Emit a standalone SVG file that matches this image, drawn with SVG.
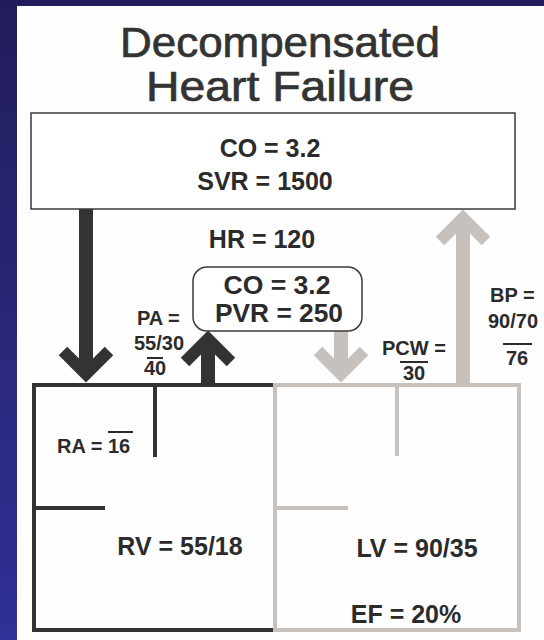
<svg xmlns="http://www.w3.org/2000/svg" width="544" height="640" viewBox="0 0 544 640">
<defs>
<linearGradient id="bg" x1="0" y1="0" x2="0" y2="1">
<stop offset="0" stop-color="#221d5a"/>
<stop offset="1" stop-color="#2f3196"/>
</linearGradient>
<style>
.t{font-family:"Liberation Sans",Arial,sans-serif;font-weight:bold;fill:#2b2b2b;}
.big{font-size:25px;}
.sm{font-size:20px;}
.title{font-family:"Liberation Sans",Arial,sans-serif;font-size:42px;fill:#333;stroke:#333;stroke-width:0.7;text-anchor:middle;}
.box{fill:#fff;stroke:#3a3a3a;stroke-width:1.5;}
.dk{stroke:#333;fill:none;}
.lt{stroke:#c6c1bc;fill:none;}
.shaft{stroke-width:14;}
.head{stroke-width:12;stroke-linejoin:miter;stroke-miterlimit:10;}
.wall{stroke-width:4;}
.ov{stroke:#2b2b2b;stroke-width:2;}
</style>
</defs>
<rect x="0" y="0" width="544" height="640" fill="url(#bg)"/>
<rect x="17" y="6" width="527" height="634" fill="#fefefe"/>

<g id="title">
<text class="title" x="280" y="57" textLength="320" lengthAdjust="spacingAndGlyphs">Decompensated</text>
<text class="title" x="280" y="101" textLength="268" lengthAdjust="spacingAndGlyphs">Heart Failure</text>
</g>

<g id="connectors">
<path class="dk shaft" d="M86,209 V372"/>
<path class="dk head" d="M63,351 L86,374 L109,351"/>
<path class="dk shaft" d="M208,385 V342"/>
<path class="dk head" d="M185,362 L208,339 L231,362"/>
<path class="lt shaft" d="M341,331 V372"/>
<path class="lt head" d="M318,351 L341,374 L364,351"/>
<path class="lt shaft" d="M463,385 V222"/>
<path class="lt head" d="M440,241 L463,218 L486,241"/>
</g>

<g id="systemic">
<rect class="box" x="31" y="113" width="484" height="96"/>
<text class="t big" x="270" y="157" text-anchor="middle">CO = 3.2</text>
<text class="t big" x="265" y="190" text-anchor="middle">SVR = 1500</text>
</g>

<g id="hr">
<text class="t big" x="262" y="248" text-anchor="middle">HR = 120</text>
</g>

<g id="pulmonary">
<rect class="box" x="193" y="267" width="169" height="64" rx="14"/>
<text class="t big" x="277" y="294" text-anchor="middle" textLength="107" lengthAdjust="spacingAndGlyphs">CO = 3.2</text>
<text class="t big" x="279" y="322" text-anchor="middle" textLength="128" lengthAdjust="spacingAndGlyphs">PVR = 250</text>
</g>

<g id="pa">
<text class="t sm" x="137" y="325">PA =</text>
<text class="t sm" x="134" y="350">55/30</text>
<line class="ov" x1="147" y1="358" x2="163" y2="358"/>
<text class="t sm" x="155" y="375" text-anchor="middle">40</text>
</g>

<g id="pcw">
<text class="t sm" x="382" y="355">PCW =</text>
<line class="ov" x1="400" y1="362" x2="428" y2="362"/>
<text class="t sm" x="414" y="380" text-anchor="middle">30</text>
</g>

<g id="bp">
<text class="t sm" x="490" y="302">BP =</text>
<text class="t sm" x="488" y="328">90/70</text>
<line class="ov" x1="503" y1="344" x2="532" y2="344"/>
<text class="t sm" x="517" y="365" text-anchor="middle">76</text>
</g>

<g id="right-heart">
<path class="dk wall" d="M275,385 H34 V630 H275"/>
<path class="dk wall" d="M155,385 V457"/>
<path class="dk wall" d="M34,508 H105"/>
<text class="t sm" x="57" y="453">RA = 16</text>
<line class="ov" x1="108" y1="432" x2="133" y2="432"/>
<text class="t big" x="180" y="555" text-anchor="middle">RV = 55/18</text>
</g>

<g id="left-heart">
<rect class="lt wall" x="275" y="385" width="244" height="245"/>
<path class="lt wall" d="M397,385 V456"/>
<path class="lt wall" d="M275,508 H348"/>
<text class="t big" x="417" y="557" text-anchor="middle">LV = 90/35</text>
<text class="t big" x="406" y="623" text-anchor="middle">EF = 20%</text>
</g>
</svg>
